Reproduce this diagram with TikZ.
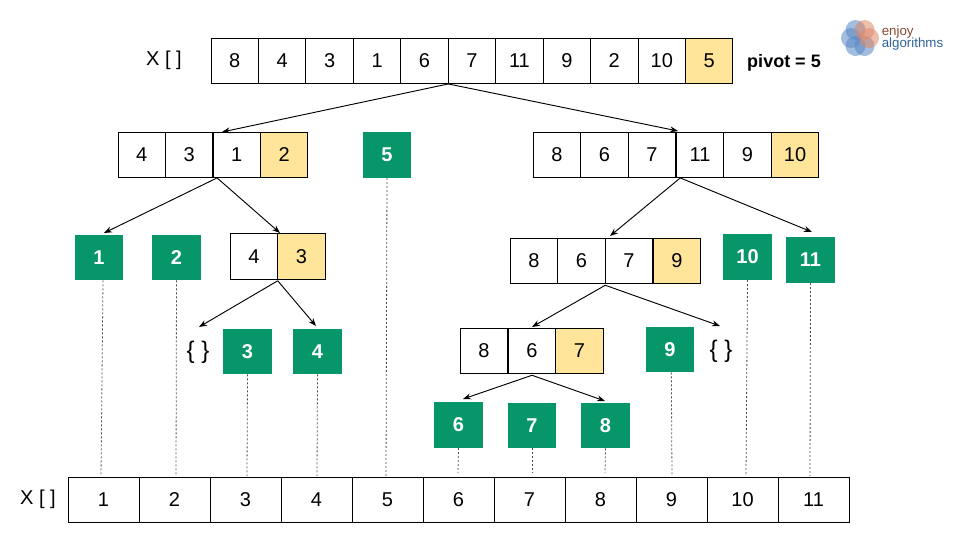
\documentclass[tikz,border=0pt]{standalone}
\usepackage{fontspec}
\setmainfont{Liberation Sans}
\usepackage{tikz}
\usetikzlibrary{arrows.meta}
\definecolor{sortedc}{RGB}{6,150,105}
\definecolor{pivotc}{RGB}{255,229,153}
\definecolor{logoc1}{RGB}{86,134,196}
\definecolor{logoc2}{RGB}{222,136,104}
\definecolor{logoc3}{RGB}{135,72,50}
\definecolor{logoc4}{RGB}{46,100,150}
\tikzset{
	cell/.style={draw, line width=0.7pt, minimum width=35.6pt, minimum height=34.4pt, inner sep=0pt, outer sep=0pt, font=\fontsize{15}{15}\selectfont},
	pivot/.style={cell, fill=pivotc},
	sorted/.style={minimum width=36.4pt, minimum height=34.4pt, inner sep=0pt, outer sep=0pt, fill=sortedc, text=white, font=\fontsize{15}{15}\selectfont\bfseries},
	slot/.style={cell, minimum width=53.25pt},
	lbl/.style={inner sep=0pt, font=\fontsize{15}{15}\selectfont},
	brace/.style={inner sep=0pt, font=\fontsize{18}{18}\selectfont},
	arr/.style={-{Stealth[length=6pt,width=4.5pt]}, line width=0.7pt},
	guide/.style={line width=0.6pt, color=black!70, dash pattern=on 1.5pt off 1.5pt}
}

\begin{document}
\begin{tikzpicture}[x=0.75pt, y=-0.75pt]
		\useasboundingbox (0,0) rectangle (960,540);
		
		\node[lbl] (xtop) at (164,60) {X [ ]};
		\node[cell] (t1) at (234.7,61) {8};
		\node[cell] (t2) at (282.2,61) {4};
		\node[cell] (t3) at (329.6,61) {3};
		\node[cell] (t4) at (377.1,61) {1};
		\node[cell] (t5) at (424.5,61) {6};
		\node[cell] (t6) at (472,61) {7};
		\node[cell] (t7) at (519.4,61) {11};
		\node[cell] (t8) at (566.9,61) {9};
		\node[cell] (t9) at (614.3,61) {2};
		\node[cell] (t10) at (661.8,61) {10};
		\node[pivot] (t11) at (709.2,61) {5};
		\node[inner sep=0pt, font=\fontsize{13.5}{13.5}\selectfont\bfseries] (pivottext) at (784,63) {pivot = 5};
		
		\node[cell] (l1) at (141.8,155) {4};
		\node[cell] (l2) at (189.2,155) {3};
		\node[cell] (l3) at (236.8,155) {1};
		\node[pivot] (l4) at (284.2,155) {2};
		\node[sorted] (g5) at (387,155) {5};
		\node[cell] (r1) at (557,155) {8};
		\node[cell] (r2) at (604.5,155) {6};
		\node[cell] (r3) at (652,155) {7};
		\node[cell] (r4) at (700,155) {11};
		\node[cell] (r5) at (747.5,155) {9};
		\node[pivot] (r6) at (795,155) {10};
		
		\node[sorted] (g1) at (99,257.5) {1};
		\node[sorted] (g2) at (176.5,257.5) {2};
		\node[cell] (p1) at (254,256.5) {4};
		\node[pivot] (p2) at (301.5,256.5) {3};
		\node[cell] (q1) at (534,261) {8};
		\node[cell] (q2) at (581.5,261) {6};
		\node[cell] (q3) at (629,261) {7};
		\node[pivot] (q4) at (677,261) {9};
		\node[sorted] (g10) at (747.5,257) {10};
		\node[sorted] (g11) at (810.5,260) {11};
		
		\node[brace] (emptya) at (198,352) {\{ \}};
		\node[sorted] (g3) at (247.5,351.5) {3};
		\node[sorted] (g4) at (317.5,351.5) {4};
		\node[cell] (s1) at (484,351) {8};
		\node[cell] (s2) at (532,351) {6};
		\node[pivot] (s3) at (579.5,351) {7};
		\node[sorted] (g9) at (670,349.5) {9};
		\node[brace] (emptyb) at (721,351) {\{ \}};
		
		\node[sorted] (g6) at (458.5,425) {6};
		\node[sorted] (g7) at (532,425.5) {7};
		\node[sorted] (g8) at (605.5,425.5) {8};
		
		\node[lbl] (xbot) at (38,499) {X [ ]};
		\node[slot] (b1) at (103.5,500) {1};
		\node[slot] (b2) at (174.5,500) {2};
		\node[slot] (b3) at (245.5,500) {3};
		\node[slot] (b4) at (316.5,500) {4};
		\node[slot] (b5) at (387.5,500) {5};
		\node[slot] (b6) at (458.5,500) {6};
		\node[slot] (b7) at (529.5,500) {7};
		\node[slot] (b8) at (600.5,500) {8};
		\node[slot] (b9) at (671.5,500) {9};
		\node[slot] (b10) at (742.5,500) {10};
		\node[slot] (b11) at (813.5,500) {11};
		
		\coordinate (ta) at (222,132);
		\coordinate (tb) at (678,131);
		\coordinate (la) at (104,233);
		\coordinate (lb) at (280,233);
		\coordinate (ra) at (610,236);
		\coordinate (rb) at (812,232);
		\coordinate (pa) at (199,327);
		\coordinate (pb) at (316,326);
		\coordinate (qa) at (532,327);
		\coordinate (qb) at (720,326);
		\coordinate (sa) at (463,399);
		\coordinate (sb) at (605,401);
		
		\draw[arr] (t6.south west) -- (ta);
		\draw[arr] (t6.south west) -- (tb);
		\draw[arr] ([xshift=3pt]l3.south west) -- (la);
		\draw[arr] ([xshift=3pt]l3.south west) -- (lb);
		\draw[arr] ([xshift=3pt]r4.south west) -- (ra);
		\draw[arr] ([xshift=3pt]r4.south west) -- (rb);
		\draw[arr] ([yshift=-1pt]p1.south east) -- (pa);
		\draw[arr] ([yshift=-1pt]p1.south east) -- (pb);
		\draw[arr] ([yshift=-1pt]q3.south west) -- (qa);
		\draw[arr] ([yshift=-1pt]q3.south west) -- (qb);
		\draw[arr] ([yshift=-1pt]s2.south) -- (sa);
		\draw[arr] ([yshift=-1pt]s2.south) -- (sb);
		
		\coordinate (d1) at (101,476);
		\coordinate (d2) at (176,476);
		\coordinate (d3) at (247,476);
		\coordinate (d4) at (317,476);
		\coordinate (d5) at (386,476);
		\coordinate (d6) at (458,473);
		\coordinate (d7) at (532,473);
		\coordinate (d8) at (605,473);
		\coordinate (d9) at (672,475);
		\coordinate (d10) at (746,476);
		\coordinate (d11) at (810,476);
		
		\draw[guide] ([xshift=3pt]g1.south) -- (d1);
		\draw[guide] (g2.south) -- (d2);
		\draw[guide] (g3.south) -- (d3);
		\draw[guide] (g4.south) -- (d4);
		\draw[guide] (g5.south) -- (d5);
		\draw[guide] (g6.south) -- (d6);
		\draw[guide] (g7.south) -- (d7);
		\draw[guide] (g8.south) -- (d8);
		\draw[guide] ([xshift=1pt]g9.south) -- (d9);
		\draw[guide] (g10.south) -- (d10);
		\draw[guide] (g11.south) -- (d11);
		
		\fill[logoc1, opacity=0.55] (851,38) circle (10);
		\fill[logoc1, opacity=0.55] (855.5,46) circle (10);
		\fill[logoc1, opacity=0.55] (864.5,46) circle (10);
		\fill[logoc1, opacity=0.55] (855.5,30) circle (10);
		\fill[logoc2, opacity=0.55] (864.5,30) circle (10);
		\fill[logoc2, opacity=0.55] (869,38) circle (10);
		\node[inner sep=0pt, anchor=west, text=logoc3, font=\fontsize{10}{10}\selectfont] (logoa) at (881.5,32) {enjoy};
		\node[inner sep=0pt, anchor=west, text=logoc4, font=\fontsize{10}{10}\selectfont] (logob) at (881.5,44) {algorithms};
		
		\end{tikzpicture}
\end{document}
